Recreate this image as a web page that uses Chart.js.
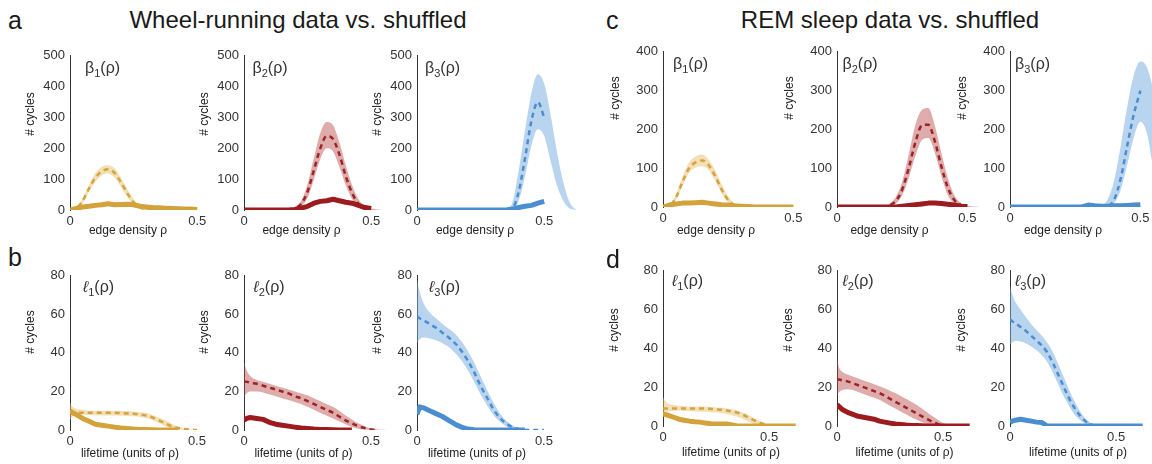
<!DOCTYPE html>
<html><head><meta charset="utf-8">
<script src="https://cdn.jsdelivr.net/npm/chart.js@4.4.1/dist/chart.umd.min.js"></script>
<style>
html,body{margin:0;padding:0;background:#fff;overflow:hidden;width:1152px;height:464px;}
body{position:relative;font-family:"Liberation Sans",Arial,sans-serif;color:#1a1a1a;}
canvas{position:absolute;}
.t{position:absolute;white-space:nowrap;line-height:1;}
.main{font-size:24px;transform:translate(-50%,-50%);}
.letter{font-size:25px;transform:translateY(-50%);}
.xt{font-size:12px;transform:translate(-50%,-50%);color:#222;}
.yt{font-size:12px;transform:translate(-50%,-50%) rotate(-90deg);color:#222;}
.pl{font-size:16px;transform:translateY(-50%);color:#333;}
.pl sub{font-size:11px;vertical-align:-4px;}
.pl i{font-style:italic;}
</style></head><body>
<script>
// ---------- x grids ----------
const xBeta = [0,0.025,0.05,0.075,0.1,0.125,0.15,0.175,0.2,0.225,0.25,0.275,0.3,0.325,0.35,0.375,0.4,0.425,0.45,0.475,0.5,0.525,0.55,0.575,0.6,0.625];
const xLife = [0,0.01,0.025,0.05,0.075,0.1,0.125,0.15,0.175,0.2,0.225,0.25,0.275,0.3,0.325,0.35,0.375,0.4,0.425,0.45,0.475,0.5,0.525,0.55,0.575,0.6,0.625,0.65];

// ---------- a: Wheel-running, Betti curves ----------
const a1Data = [0,5,10,12,15,17,20,17,18,19,17,12,10,8,7,6,5,4,3,3,2];
const a1Mean = [0,5,30,70,105,125,132,120,90,55,25,8,2,0,0];
const a1Hi   = [0,8,38,82,120,140,145,135,105,68,35,12,4,1,0,0];
const a1Lo   = [0,3,22,60,92,112,118,105,75,42,17,4,0,0,0,0];

const a2Data = [0,0,0,0,0,0,0,0,2,6,12,22,28,30,35,30,25,22,15,8,5];
const a2Mean = [0,0,0,0,0,0,0,0,5,20,60,130,200,240,230,180,110,55,20,5,1];
const a2Hi   = [0,0,0,0,0,0,0,0,10,30,85,170,250,285,275,220,145,80,35,12,5,2,0];
const a2Lo   = [0,0,0,0,0,0,0,0,2,12,40,100,165,200,190,140,80,35,10,2,0,0,0];

const a3Data = [0,0,0,0,0,0,0,0,0,0,0,0,0,0,0,3,8,12,15,22,28];
const a3Mean = [0,0,0,0,0,0,0,0,0,0,0,0,0,0,0,5,60,170,290,350,300];
const a3Hi   = [0,0,0,0,0,0,0,0,0,0,0,0,0,0,0,25,130,260,380,440,410,310,190,90,25,0];
const a3Lo   = [0,0,0,0,0,0,0,0,0,0,0,0,0,0,0,0,30,110,210,262,240,160,80,30,5,0];

// ---------- c: REM sleep, Betti curves ----------
const c1Data = [0,5,8,10,10,11,12,10,8,6,5,3,2,1,0,0,0,0,0,0,0];
const c1Mean = [0,3,25,65,100,115,120,108,80,45,18,5,1,0,0];
const c1Hi   = [0,6,33,78,115,130,135,122,95,58,27,9,2,0,0,0];
const c1Lo   = [0,1,18,55,88,102,105,95,68,35,12,2,0,0,0,0];

const c2Data = [0,0,0,0,0,0,0,0,0,0,2,4,6,8,10,10,9,7,5,2,1];
const c2Mean = [0,0,0,0,0,0,0,0,4,15,45,100,165,210,212,170,105,50,18,5,1];
const c2Hi   = [0,0,0,0,0,0,0,0,8,25,65,135,210,250,255,210,140,75,30,10,3,1,0];
const c2Lo   = [0,0,0,0,0,0,0,0,2,8,30,75,130,172,178,140,80,30,8,1,0,0,0];

const c3Data = [0,0,0,0,0,0,0,0,0,0,0,0,5,3,2,2,3,3,4,5,6];
const c3Mean = [0,0,0,0,0,0,0,0,0,0,0,0,0,0,0,2,20,75,160,240,300];
const c3Hi   = [0,0,0,0,0,0,0,0,0,0,0,0,0,0,3,20,70,160,260,340,375,360,300,220,150,90];
const c3Lo   = [0,0,0,0,0,0,0,0,0,0,0,0,0,0,0,0,10,45,110,180,220,190,100,50,20,5];

// ---------- b: Wheel-running, lifetimes ----------
const b1Data = [10,9,8,6,4.5,3,2.5,2,1.5,1,0.8,0.5,0.3,0.2,0.1,0,0,0,0];
const b1Mean = [10,9.5,9,9,9,9,9,9,9,8.8,8.6,8.4,8,7.5,6.5,5,3.5,2,1,0.5,0.2,0];
const b1Hi   = [14,12,11,10.5,10,10,10,10,10,10,9.8,9.5,9.2,8.8,7.8,6.5,5,3.2,1.8,0.8,0.3,0.1,0.05,0,0,0];
const b1Lo   = [5,7,8,8,7.8,7.6,7.5,7.5,7.5,7.4,7.3,7.1,6.8,6.2,5.2,3.6,2,0.8,0.2,0,0,0,0,0,0,0];

const b2Data = [5,6,6.5,6,5.5,4,3,2.5,2,1.5,1,0.8,0.5,0.3,0.2,0.1,0,0,0];
const b2Mean = [25,25,24.5,24,23,22,21,20,19,17.5,16.5,15,13.5,12,10.5,9,7,5,3.5,2,1,0.3,0];
const b2Hi   = [35,31,28,26,25,24,23,22,21,20,19,18,16.5,15,13.5,12,10,7.5,5.5,3.5,2,0.8,0.3,0.1,0,0];
const b2Lo   = [17,19,20,20,19.5,18.5,17.5,16.5,15.5,14.5,13.5,12,10.5,9,7.5,6,4.5,3,1.5,0.6,0.2,0,0,0,0,0];

const b3Data = [8,12,11.5,10,8.5,7,5,3,1.5,0.5,0.1,0,0,0,0,0,0,0,0];
const b3Mean = [59,58,57,55,53,50.5,48,45,41,36,30,23,17,11,6.5,3.5,1.5,0.5,0,0,0,0];
const b3Hi   = [78,72,66,61,58,55,52.5,50,46,41,35,28,21,14.5,9,5,2.5,1,0.3,0,0,0];
const b3Lo   = [45,47,48,47.5,46.5,45,43,40,36,31,25,18.5,13,8,4.5,2,0.8,0.2,0,0,0,0];

// ---------- d: REM sleep, lifetimes ----------
const d1Data = [6,6,5.5,4.5,3.5,3,2.5,2.2,2,1.5,1.2,1,1,1,0.5,0,0,0,0,0,0,0,0,0,0,0,0];
const d1Mean = [9,9,9,9,9,9,9,9,9,9,8.8,8.6,8.4,8,7.5,6.8,5.8,4.5,3.2,2,1,0.3,0];
const d1Hi   = [15,13,11.5,11,10.5,10.2,10,10,10,10,9.8,9.6,9.4,9,8.6,8,7,5.8,4.2,2.8,1.5,0.6,0.2,0.05,0,0,0,0];
const d1Lo   = [6,7,7.5,7.8,7.8,7.7,7.6,7.5,7.4,7.3,7.1,6.9,6.6,6.2,5.6,4.8,3.8,2.5,1.3,0.5,0.1,0,0,0,0,0,0,0];

const d2Data = [11,10,8.5,7,6,5,4.5,4,3.5,2.5,2,1.5,1,0.8,0.5,0.3,0.2,0.1,0,0,0,0,0,0,0,0,0];
const d2Mean = [24,24,23.5,23,22,21,20,19,18,17,15.5,14,12.5,11,9.5,8,6.5,5,3.5,2.2,1,0.3,0];
const d2Hi   = [35,30,28,26.5,25.5,24.5,23.5,22.5,21.5,20.5,19.5,18.2,17,15.5,14,12.5,11,9,7,5,3.2,1.6,0.6,0.2,0,0,0,0];
const d2Lo   = [16,17.5,18.5,19,18.5,17.5,16.5,15.5,14.5,13.5,12,10.5,9,7.5,6,4.5,3.2,2,1,0.4,0.1,0,0,0,0,0,0,0];

const d3Data = [2,2.5,3,3.5,3,2.5,2,1.8,0,0,0,0,0,0,0,0,0,0,0,0,0,0,0,0,0,0,0];
const d3Mean = [55,54,53,51,49,46.5,44,41.5,38,33,27,21,15,10,6,3,1,0.2,0];
const d3Hi   = [72,68,64,60,56,52.5,49.5,46.5,43,38.5,32.5,26,19.5,13.5,8.5,4.5,2,0.6,0.1,0,0,0,0,0,0,0,0,0];
const d3Lo   = [42,43,44,43.5,42.5,41,39,36.5,33,28,22,16,11,6.5,3.5,1.5,0.4,0,0,0,0,0,0,0,0,0,0,0];

// ---------- axis ticks ----------
const xTickVals = [0, 0.5];
const xTickLabels = ['0', '0.5'];

// ---------- styles ----------
const GOLD = {line:'#D3A23B', mean:'#D4A441', band:'rgba(232,192,110,0.5)'};
const RED  = {line:'#9B1B1E', mean:'#9E2227', band:'rgba(185,70,70,0.45)'};
const BLUE = {line:'#4A8ED0', mean:'#4A8ED0', band:'rgba(120,172,224,0.52)'};

// ---------- layout ----------
const rowA = {top:53,  bot:210, ymax:500, step:100, xmax:0.625, ppu:254};
const rowC = {top:49,  bot:207, ymax:400, step:100, xmax:0.625, ppu:260};
const rowB = {top:273, bot:430, ymax:80,  step:20,  xmax:0.65,  ppu:254};
const rowD = {top:268, bot:426, ymax:80,  step:20,  xmax:0.65,  ppu:212};

const panels = [
  {row:rowA, ax:70,    xs:xBeta, d:a1Data, m:a1Mean, hi:a1Hi, lo:a1Lo, col:GOLD},
  {row:rowA, ax:243.5, xs:xBeta, d:a2Data, m:a2Mean, hi:a2Hi, lo:a2Lo, col:RED},
  {row:rowA, ax:417,   xs:xBeta, d:a3Data, m:a3Mean, hi:a3Hi, lo:a3Lo, col:BLUE},
  {row:rowC, ax:663,   xs:xBeta, d:c1Data, m:c1Mean, hi:c1Hi, lo:c1Lo, col:GOLD},
  {row:rowC, ax:836.5, xs:xBeta, d:c2Data, m:c2Mean, hi:c2Hi, lo:c2Lo, col:RED},
  {row:rowC, ax:1010,  xs:xBeta, d:c3Data, m:c3Mean, hi:c3Hi, lo:c3Lo, col:BLUE},
  {row:rowB, ax:70,    xs:xLife, d:b1Data, m:b1Mean, hi:b1Hi, lo:b1Lo, col:GOLD},
  {row:rowB, ax:243.5, xs:xLife, d:b2Data, m:b2Mean, hi:b2Hi, lo:b2Lo, col:RED},
  {row:rowB, ax:417,   xs:xLife, d:b3Data, m:b3Mean, hi:b3Hi, lo:b3Lo, col:BLUE},
  {row:rowD, ax:663,   xs:xLife, d:d1Data, m:d1Mean, hi:d1Hi, lo:d1Lo, col:GOLD},
  {row:rowD, ax:836.5, xs:xLife, d:d2Data, m:d2Mean, hi:d2Hi, lo:d2Lo, col:RED},
  {row:rowD, ax:1010,  xs:xLife, d:d3Data, m:d3Mean, hi:d3Hi, lo:d3Lo, col:BLUE}
];

function pts(xs, ys){ return xs.map((x,i)=>({x:x, y:(i<ys.length && ys[i]!==null)? ys[i] : null})); }

const YW = 40, PADT = 10, XH = 22, PADR = 2;

panels.forEach(p=>{
  const r = p.row;
  const cw = r.xmax * r.ppu;
  const ch = r.bot - r.top;
  const cv = document.createElement('canvas');
  cv.width = Math.round(YW + cw + PADR);
  cv.height = Math.round(PADT + ch + XH);
  cv.style.left = (p.ax - YW) + 'px';
  cv.style.top = (r.top - PADT) + 'px';
  cv.style.width = cv.width + 'px';
  cv.style.height = cv.height + 'px';
  document.body.appendChild(cv);
  new Chart(cv, {
    type:'line',
    data:{datasets:[
      {data:pts(p.xs,p.hi), borderWidth:0, pointRadius:0, fill:'+1', backgroundColor:p.col.band, cubicInterpolationMode:'monotone', order:3},
      {data:pts(p.xs,p.lo), borderWidth:0, pointRadius:0, fill:false, cubicInterpolationMode:'monotone', order:4},
      {data:pts(p.xs,p.m), borderColor:p.col.mean, borderWidth:2.5, borderDash:[5,4], pointRadius:0, fill:false, cubicInterpolationMode:'monotone', order:1},
      {data:pts(p.xs,p.d), borderColor:p.col.line, borderWidth:5, pointRadius:0, fill:false, tension:0, order:0, borderJoinStyle:'round'}
    ]},
    options:{
      responsive:false, animation:false, devicePixelRatio:1,
      layout:{padding:{top:PADT, right:PADR, left:0, bottom:0}},
      plugins:{legend:{display:false}, tooltip:{enabled:false}},
      scales:{
        x:{type:'linear', min:0, max:r.xmax,
           afterBuildTicks:(s)=>{ s.ticks = xTickVals.map(v=>({value:v})); },
           afterFit:(s)=>{ s.height = XH; },
           ticks:{callback:(v)=>xTickLabels[xTickVals.indexOf(v)], color:'#333', padding:4, maxRotation:0, autoSkip:false,
                  font:{family:'"Liberation Sans", Arial, sans-serif', size:13}},
           grid:{display:false, drawTicks:false}, border:{display:false}},
        y:{min:0, max:r.ymax,
           afterFit:(s)=>{ s.width = YW; },
           ticks:{stepSize:r.step, color:'#333', padding:5,
                  font:{family:'"Liberation Sans", Arial, sans-serif', size:13}},
           grid:{display:false, drawTicks:false}, border:{display:true, color:'#333', width:1}}
      }
    }
  });
});

// ---------- texts ----------
function txt(cls, html, x, y){ const d=document.createElement('div'); d.className='t '+cls; d.innerHTML=html; d.style.left=x+'px'; d.style.top=y+'px'; document.body.appendChild(d); }
txt('letter','a',8,20); txt('letter','c',606,20); txt('letter','b',8,257); txt('letter','d',606,259);
txt('main','Wheel-running data vs. shuffled',298,20);
txt('main','REM sleep data vs. shuffled',890,20);

const betaLbl = ['β<sub>1</sub>(ρ)','β<sub>2</sub>(ρ)','β<sub>3</sub>(ρ)'];
const ellLbl  = ['<i>ℓ</i><sub>1</sub>(ρ)','<i>ℓ</i><sub>2</sub>(ρ)','<i>ℓ</i><sub>3</sub>(ρ)'];
const axA = [70,243.5,417], axC = [663,836.5,1010];
const plOffA = [15,9,8], plOffC=[10,6,5], plOffB=[13,10,12], plOffD=[9,6,5];
for(let i=0;i<3;i++){
  txt('pl', betaLbl[i], axA[i]+plOffA[i], 69);
  txt('pl', betaLbl[i], axC[i]+plOffC[i], 65);
  txt('pl', ellLbl[i], axA[i]+plOffB[i], 288);
  txt('pl', ellLbl[i], axC[i]+plOffD[i], 282);
  txt('yt','# cycles', axA[i]-40, 114);
  txt('yt','# cycles', axC[i]-48, 98);
  txt('yt','# cycles', axA[i]-40, 332);
  txt('yt','# cycles', axC[i]-49, 330);
  txt('xt','edge density ρ', axA[i]+58, 230);
  txt('xt','edge density ρ', axC[i]+53, 230);
  txt('xt','lifetime (units of ρ)', axA[i]+60, 453);
  txt('xt','lifetime (units of ρ)', axC[i]+68, 452);
}
</script>
</body></html>
